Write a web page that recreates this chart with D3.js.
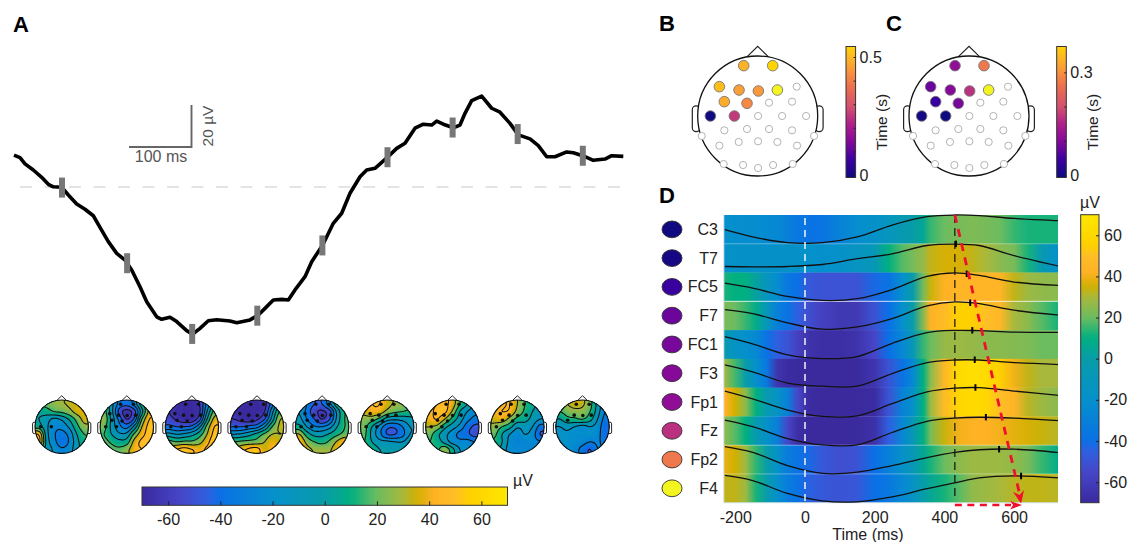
<!DOCTYPE html>
<html><head><meta charset="utf-8">
<script src="https://cdn.jsdelivr.net/npm/d3@7"></script>
<style>
html,body{margin:0;padding:0;background:#fff}
svg{display:block}
text{font-family:"Liberation Sans",Arial,sans-serif;fill:#222}
</style></head><body><svg id="c" width="1127" height="542"></svg>
<script>
// ---------- Panel A: grand average trace
const traceT=[-76.8,-67.2,-59.2,-45.9,-32.5,-21.9,-13.9,-0.5,10.1,23.5,36.8,50.1,60.8,74.1,87.5,100.8,111.5,124.8,135.5,151.5,159.5,172.8,183.5,199.5,209.1,220.8,234.1,247.5,268.8,279.5,300.8,314.1,324.8,338.1,351.5,362.1,372.8,388.8,399.5,417.1,434.1,447.5,460.8,476.8,487.5,500.8,520.5,535.5,548.8,564.8,578.1,591.5,599.5,610.1,626.1,636.8,644.8,655.5,671.5,687.5,700.8,716.8,730.1,748.8,762.1,775.5,788.8,807.5,818.1,834.1,850.1,868.8,879.5,898.1];
const traceV=[15.2,14,11,8.1,4.6,1.3,0.1,-0.1,-3.8,-8.1,-10.6,-13.7,-19.2,-26,-31.6,-34.8,-39.5,-47.5,-54.6,-61.8,-63,-62,-64.1,-68.4,-70.1,-67.3,-63.7,-63.2,-63.8,-64.6,-63.3,-61,-57.8,-53.8,-53.5,-53.8,-49,-42.7,-35.6,-27.6,-17.3,-12.5,-3,4.9,8.1,8.9,14.1,18.4,20.8,28,29.9,29.5,31.4,29.9,28.2,29.5,35.1,41.1,43.3,37.5,35.6,30.3,24.8,22.9,19.7,14.4,14.4,16.7,16.3,14.8,12.7,13.3,14.9,14.6];
const markerT=[0,104.2,208.3,312.5,416.6,520.8,625,729.1,833.3];

// ---------- Topographies (rows front to back, columns left to right, uV)
const topo1=[[15,20,25,28,32,35,35],[5,8,15,18,25,35,38],[0,-8,-18,-12,2,20,35],[8,-12,-25,-25,-12,10,25],[42,-8,-28,-35,-25,0,15],[48,-5,-25,-38,-28,-5,10],[14,-5,-18,-28,-22,-5,5]];
const topo2=[[15,-10,-35,-40,-25,10,30],[20,-10,-50,-65,-50,-5,35],[25,-5,-35,-60,-40,15,45],[20,-5,-25,-35,-10,30,50],[15,0,-12,-10,18,40,50],[20,12,5,8,35,48,48],[25,20,18,25,40,45,45]];
const topo3=[[-55,-65,-70,-70,-60,-25,5],[-60,-68,-70,-70,-62,-15,20],[-55,-62,-68,-68,-50,0,35],[-40,-45,-45,-40,-18,20,45],[-10,-15,-12,-5,8,30,50],[20,15,18,18,25,40,55],[35,45,50,45,40,48,55]];
const topo4=[[-60,-68,-70,-70,-65,-35,0],[-65,-70,-70,-70,-60,-20,15],[-60,-65,-68,-62,-45,-8,28],[-45,-45,-40,-35,-15,15,32],[-15,-12,-5,5,18,30,30],[15,18,20,22,30,38,35],[30,40,48,50,35,42,38]];
const topo5=[[-5,-30,-45,-45,-20,10,20],[-15,-35,-55,-62,-50,-10,15],[-10,-30,-45,-60,-45,-10,15],[5,-15,-28,-30,-20,0,15],[30,8,-5,-5,2,12,20],[45,25,15,10,18,32,45],[45,35,28,28,28,40,45]];
const topo6=[[40,45,45,35,28,25,20],[35,40,38,25,18,15,12],[25,22,10,-8,-12,-10,-5],[20,0,-20,-40,-42,-30,-15],[18,-5,-25,-45,-45,-35,-15],[15,0,-10,-12,-15,-15,-5],[15,10,0,-2,-5,0,-2]];
const topo7=[[42,45,48,38,15,0,-15],[42,48,48,28,0,-15,-25],[40,45,30,10,-8,-25,-35],[30,25,5,-8,-20,-38,-48],[20,5,-10,-22,-35,-42,-50],[15,8,-5,-20,-25,-25,-30],[15,12,25,5,-15,-20,-20]];
const topo8=[[35,42,45,30,15,5,-5],[40,45,42,25,12,0,-8],[35,38,25,10,5,-5,-15],[25,15,5,-12,-8,-15,-35],[18,0,-15,-25,-15,-22,-45],[12,0,-20,-28,-25,-25,-28],[10,-5,-22,-25,-25,-25,-25]];
const topo9=[[25,30,35,32,20,-5,-25],[15,22,25,25,15,-8,-30],[0,10,12,15,5,-15,-35],[-15,-10,-15,-20,-15,-22,-40],[-18,-18,-22,-22,-20,-25,-40],[-15,-20,-22,-25,-30,-28,-35],[-20,-22,-25,-35,-45,-30,-30]];
const topos=[topo1,topo2,topo3,topo4,topo5,topo6,topo7,topo8,topo9];
const allTen=["Fp1","Fp2","F7","F3","Fz","F4","FC5","FC1","T7","C3"];
const topoDots=[["T7","C3"],allTen,allTen,allTen,allTen,allTen,allTen,allTen.slice(0,9),["Fp1","Fp2","F3","Fz","F4","FC5"]];

// ---------- Montage
const chanNames=["Fp1","Fp2","F7","F3","Fz","F4","F8","FC5","FC1","FC2","FC6","T7","C3","Cz","C4","T8","CP5","CP1","CP2","CP6","TP9","P7","P3","Pz","P4","P8","TP10","PO9","O1","Oz","O2","PO10"];
const chanX=[-.233,.25,-.639,-.311,.011,.328,.65,-.556,-.178,.189,.572,-.789,-.389,.006,.406,.806,-.556,-.178,.189,.572,-.933,-.639,-.317,.006,.328,.656,.939,-.567,-.244,.006,.256,.583];
const chanY=[-.839,-.839,-.489,-.433,-.417,-.433,-.489,-.239,-.211,-.222,-.239,0,0,0,0,0,.239,.217,.217,.239,.333,.494,.433,.422,.433,.494,.333,.8,.817,.867,.817,.8];

// ---------- Panels B, C: latency per electrode (s)
const latB={T7:0,C3:.26,FC1:.42,Fz:.45,F3:.46,FC5:.48,Fp1:.49,F7:.51,Fp2:.55,F4:.58};
const latC={C3:0,T7:.008,FC5:.05,F7:.085,FC1:.095,F3:.105,Fp1:.115,Fz:.17,Fp2:.27,F4:.4};
const latStopT=[0,.13,.27,.38,.5,.65,.75,.87,.95,1];
const latStopC=["#0f0a80","#3c00a0","#8a0a9a","#ad1f8a","#d04f70","#ec7050","#f99040","#fdbb20","#ffd500","#f4f520"];

// ---------- Panel D: rows
const rowNames=["C3","T7","FC5","F7","FC1","F3","Fp1","Fz","Fp2","F4"];
const cellT=[-230,-200,-170,-140,-110,-80,-50,-20,10,50,100,150,200,240,280,310,340,360,400,440,480,520,560,600,640,680,730];
const rowC3=[-20,-21,-22,-22,-24,-25,-30,-35,-38,-38,-28,-22,-18,-12,-5,0,5,15,20,22,23,22,20,15,12,12,12];
const rowT7=[-17,-18,-18,-18,-18,-18,-18,-18,-19,-20,-18,-14,-8,10,18,22,27,33,36,36,33,30,25,22,12,-5,-18];
const rowFC5=[12,10,10,2,-12,-22,-35,-40,-48,-50,-50,-50,-42,-38,-20,0,22,34,42,44,44,44,44,33,28,26,25];
const rowF7=[22,20,15,8,-10,-30,-38,-45,-52,-58,-62,-62,-50,-40,-20,0,25,42,48,55,55,50,45,30,25,18,12];
const rowFC1=[-5,-15,-20,-25,-38,-45,-50,-58,-65,-68,-68,-65,-55,-40,-25,-8,15,20,27,28,27,25,25,24,23,20,20];
const rowF3=[28,16,0,-20,-35,-64,-69,-70,-70,-70,-70,-70,-64,-50,-38,-25,10,25,45,62,65,62,55,40,33,30,30];
const rowFp1=[42,35,25,10,-5,-15,-30,-55,-69,-70,-70,-70,-69,-50,-28,-18,10,28,48,58,62,60,50,43,32,28,25];
const rowFz=[25,18,10,-5,-18,-30,-55,-68,-70,-70,-70,-70,-66,-45,-25,-8,10,22,34,40,42,42,40,38,36,34,32];
const rowFp2=[38,35,28,14,0,-18,-32,-38,-42,-48,-52,-50,-40,-30,-18,-8,5,12,20,25,28,28,28,26,22,15,8];
const rowF4=[33,33,28,12,-2,-20,-32,-38,-44,-48,-50,-48,-40,-35,-25,-15,0,5,12,18,26,28,30,32,33,33,32];
const rowCells=[rowC3,rowT7,rowFC5,rowF7,rowFC1,rowF3,rowFp1,rowFz,rowFp2,rowF4];
const waveT=[-230,-150,-50,50,150,250,350,430,500,600,730];
const waveC3=[.49,.24,.04,.04,.24,.65,.94,1,.98,.88,.8];
const waveT7=[.21,.2,.21,.28,.48,.65,.94,.99,.94,.59,.22];
const waveFC5=[.63,.46,.17,.03,.09,.41,.87,.99,.9,.67,.55];
const waveF7=[.71,.57,.25,.03,.11,.4,.84,.98,.92,.69,.52];
const waveFC1=[.77,.52,.14,.01,.08,.54,.91,.99,.98,.93,.92];
const waveF3=[.79,.55,.16,.05,.05,.49,.87,.96,.96,.87,.8];
const waveFp1=[.88,.61,.22,0,.02,.44,.85,.98,1,.88,.73];
const waveFz=[.87,.64,.23,.01,.01,.44,.83,.94,.97,.94,.85];
const waveFp2=[.95,.75,.29,.02,.06,.29,.57,.75,.84,.86,.74];
const waveF4=[.95,.77,.32,.06,.03,.2,.49,.69,.86,.93,.86];
const rowWaves=[waveC3,waveT7,waveFC5,waveF7,waveFC1,waveF3,waveFp1,waveFz,waveFp2,waveF4];
const peakT=[430,433,464,474,480,487,489,519,557,620];
const timeTicks=[-200,0,200,400,600];
const uvTicks=[-60,-40,-20,0,20,40,60];

// ---------- Colour map (uV)
const uvStops=[-70,-55,-45,-40,-20,0,10,20,30,35,42,50,55,70];
const uvColors=["#3a2a9e","#4646c8","#2f5fe0","#0a70e6","#0590cc","#089ca8","#00b080","#6cbc60","#a8b83c","#d0b000","#ffb224","#ffbe28","#ffd000","#ffe600"];
const uvColor=d3.scaleLinear().domain(uvStops).range(uvColors).clamp(true);
const latColor=d3.scaleLinear().domain(latStopT).range(latStopC).clamp(true);

const svg=d3.select("#c"), defs=svg.append("defs");
const chanIdx=n=>chanNames.indexOf(n);
function lerpAt(ts,vs,t){const i=Math.max(1,Math.min(ts.length-1,d3.bisectLeft(ts,t)));const f=(t-ts[i-1])/(ts[i]-ts[i-1]);return vs[i-1]+f*(vs[i]-vs[i-1]);}
function bigLetter(s,x,y){svg.append("text").attr("x",x).attr("y",y).attr("font-size",22).attr("font-weight","bold").style("fill","#000").text(s);}
bigLetter("A",13,32);bigLetter("B",659,31);bigLetter("C",886,31);bigLetter("D",659,203);

// ---------- Panel A
const xA=d3.scaleLinear().domain([0,100]).range([62,124.5]);
const yA=d3.scaleLinear().domain([0,20]).range([187,145]);
const gA=svg.append("g");
gA.append("line").attr("x1",20).attr("x2",623).attr("y1",yA(0)).attr("y2",yA(0)).attr("stroke","#dcdcdc").attr("stroke-width",1.5).attr("stroke-dasharray","12 12.5");
gA.append("path").datum(traceT.map((t,i)=>[t,traceV[i]])).attr("fill","none").attr("stroke","#000").attr("stroke-width",3.6).attr("stroke-linejoin","round")
  .attr("d",d3.line().x(d=>xA(d[0])).y(d=>yA(d[1])));
gA.selectAll("rect.mk").data(markerT).join("rect").attr("class","mk").attr("width",6).attr("height",20)
  .attr("x",d=>xA(d)-3).attr("y",d=>yA(lerpAt(traceT,traceV,d))-10).attr("fill","#777");
gA.append("path").attr("d",`M${xA(107.2)},${yA(19.05)}H${xA(207.2)}V${yA(39.05)}`).attr("fill","none").attr("stroke","#666").attr("stroke-width",1.9);
gA.append("text").attr("x",161).attr("y",162).attr("text-anchor","middle").attr("font-size",16).style("fill","#555").text("100 ms");
gA.append("text").attr("transform","translate(213,126) rotate(-90)").attr("text-anchor","middle").attr("font-size",15.5).style("fill","#555").text("20 µV");

// head outline
function head(g,cx,cy,r,sw){
  const s=d3.scaleLinear().domain([-1,1]).range([-r,r]);
  const gh=g.append("g").attr("transform",`translate(${cx},${cy})`);
  [-1,1].forEach(sd=>{
    gh.append("rect").attr("x",sd<0?s(-1.09):s(.96)).attr("y",s(-.17)).attr("width",s(.13)-s(0)).attr("height",s(.43)-s(0))
      .attr("rx",(s(.065)-s(0))).attr("fill","#fff").attr("stroke","#222").attr("stroke-width",sw);
  });
  gh.append("path").attr("d",d3.line()([[s(-.18),s(-.985)],[s(0),s(-1.16)],[s(.18),s(-.985)]])).attr("fill","none").attr("stroke","#222").attr("stroke-width",sw);
  return {gh,s};
}

// ---------- Topographies
const GRID=[-.85,-.5667,-.2833,0,.2833,.5667,.85], N=70, EXT=1.06;
function cr(p0,p1,p2,p3,t){return .5*(2*p1+(p2-p0)*t+(2*p0-5*p1+4*p2-p3)*t*t+(3*p1-p0-3*p2+p3)*t*t*t);}
function upsample(m){
  const n=m.length,at=(r,c)=>m[Math.max(0,Math.min(n-1,r))][Math.max(0,Math.min(n-1,c))];
  const out=new Float64Array(N*N);
  for(let j=0;j<N;j++)for(let i=0;i<N;i++){
    const dx=-EXT+2*EXT*(i+.5)/N,dy=-EXT+2*EXT*(j+.5)/N;
    const u=(dx-GRID[0])/(GRID[1]-GRID[0]),v=(dy-GRID[0])/(GRID[1]-GRID[0]);
    const iu=Math.floor(u),iv=Math.floor(v),fu=u-iu,fv=v-iv,rows=[];
    for(let k=-1;k<=2;k++)rows.push(cr(at(iv+k,iu-1),at(iv+k,iu),at(iv+k,iu+1),at(iv+k,iu+2),fu));
    out[j*N+i]=cr(rows[0],rows[1],rows[2],rows[3],fv);
  }
  return out;
}
const fillLevels=d3.range(-90,80,2.5), lineLevels=d3.range(-60,70,15);
const geo=d3.geoPath();
const gT=svg.append("g");
const rT=26.7, cyT=426.7;
topos.forEach((m,k)=>{
  const cx=xA(markerT[k])-.3;
  const {gh,s}=head(gT,cx,cyT,rT,1);
  const id="clip"+k;
  defs.append("clipPath").attr("id",id).append("circle").attr("r",rT);
  const vals=upsample(m);
  const scale=2*EXT*rT/N;
  const g=gh.append("g").attr("clip-path",`url(#${id})`).append("g").attr("transform",`translate(${-EXT*rT},${-EXT*rT}) scale(${scale})`);
  d3.contours().size([N,N]).thresholds(fillLevels)(vals).forEach(c=>{
    g.append("path").attr("d",geo(c)).attr("fill",uvColor(c.value+1.25)).attr("stroke",uvColor(c.value+1.25)).attr("stroke-width",.3);
  });
  d3.contours().size([N,N]).thresholds(lineLevels)(vals).forEach(c=>{
    g.append("path").attr("d",geo(c)).attr("fill","none").attr("stroke","#111").attr("stroke-width",1.05/scale);
  });
  gh.append("circle").attr("r",rT).attr("fill","none").attr("stroke","#111").attr("stroke-width",1.2);
  gh.selectAll("circle.dot").data(topoDots[k]).join("circle").attr("class","dot").attr("r",1.8)
    .attr("cx",d=>s(chanX[chanIdx(d)])).attr("cy",d=>s(chanY[chanIdx(d)])).attr("fill","#111");
});

// gradient helper
function gradient(id,horizontal,color,dom){
  const g=defs.append("linearGradient").attr("id",id).attr("x1",0).attr("y1",horizontal?0:1).attr("x2",horizontal?1:0).attr("y2",0);
  d3.range(0,1.0001,.02).forEach(f=>g.append("stop").attr("offset",f).attr("stop-color",color(dom[0]+f*(dom[1]-dom[0]))));
}

// bottom colour bar
gradient("gUvH",true,uvColor,[-70,70]); gradient("gUvV",false,uvColor,[-70,70]);
const xCb=d3.scaleLinear().domain([-70,70]).range([142,507.5]);
svg.append("rect").attr("x",142).attr("y",487).attr("width",365.5).attr("height",18.3).attr("fill","url(#gUvH)").attr("stroke","#333").attr("stroke-width",1);
const axCb=svg.append("g").attr("transform","translate(0,505.3)").call(d3.axisBottom(xCb).tickValues(uvTicks).tickFormat(String).tickSize(-4).tickPadding(8));
axCb.select(".domain").remove(); axCb.selectAll("line").attr("stroke","#222");
axCb.selectAll("text").attr("font-size",16).style("font-family",'"Liberation Sans"');
svg.append("text").attr("x",513).attr("y",486).attr("font-size",16).text("µV");

// ---------- Panels B, C
function latencyPanel(cx,lat,barX,dom,barMax,ticks,labels,labX){
  const r=60,{gh,s}=head(svg,cx,116,r,1.2);
  gh.append("circle").attr("r",r).attr("fill","#fff").attr("stroke","#111").attr("stroke-width",1.3);
  const col=v=>latColor(v/dom);
  gh.selectAll("circle.e").data(chanNames).join("circle").attr("class","e")
    .attr("cx",(d,i)=>s(chanX[i])).attr("cy",(d,i)=>s(chanY[i]))
    .attr("r",d=>lat[d]===undefined?3.6:5.3)
    .attr("fill",d=>lat[d]===undefined?"#fff":col(lat[d]))
    .attr("stroke",d=>lat[d]===undefined?"#aaa":"#777").attr("stroke-width",.9);
  const id="gl"+barX;
  gradient(id,false,col,[0,barMax]);
  const y=d3.scaleLinear().domain([0,barMax]).range([175,46.5]);
  svg.append("rect").attr("x",barX).attr("y",46.5).attr("width",9.6).attr("height",131).attr("fill",`url(#${id})`).attr("stroke","#333").attr("stroke-width",1);
  const ax=svg.append("g").attr("transform",`translate(${barX+9.6},0)`)
    .call(d3.axisRight(y).tickValues(ticks).tickFormat(d=>labels.includes(d)?String(d):"").tickSize(-2).tickPadding(4));
  ax.select(".domain").remove(); ax.selectAll("line").attr("stroke","#222");
  ax.selectAll("text").attr("font-size",16).style("font-family",'"Liberation Sans"');
  svg.append("text").attr("transform",`translate(${labX},122) rotate(-90)`).attr("text-anchor","middle").attr("font-size",15.5).text("Time (s)");
}
latencyPanel(757.7,latB,846,.58,.5445,[0,.1,.2,.3,.4,.5],[0,.5],887);
latencyPanel(969,latC,1056.7,.40,.3755,[0,.1,.2,.3],[0,.3],1098);

// ---------- Panel D
const xD=d3.scaleLinear().domain([0,200]).range([805,874.7]);
const rowH=28.77, topD=215;
const rowBand=d3.scaleBand().domain(rowNames).range([topD,topD+10*rowH]);
const x0=xD(-232), x1=xD(726);
const gD=svg.append("g");
rowNames.forEach((n,i)=>{
  const id="row"+i, gr=defs.append("linearGradient").attr("id",id).attr("gradientUnits","userSpaceOnUse").attr("x1",x0).attr("x2",x1).attr("y1",0).attr("y2",0);
  cellT.forEach((t,j)=>gr.append("stop").attr("offset",Math.min(1,(xD(t)-x0)/(x1-x0))).attr("stop-color",uvColor(rowCells[i][j])));
  gD.append("rect").attr("x",x0).attr("y",rowBand(n)).attr("width",x1-x0).attr("height",rowH+.3).attr("fill",`url(#${id})`);
});
[1,3,8,9].forEach(i=>gD.append("line").attr("x1",x0).attr("x2",x1).attr("y1",topD+i*rowH).attr("y2",topD+i*rowH).attr("stroke","#fff").attr("stroke-opacity",i==3?.75:.35));
gD.append("line").attr("x1",x0).attr("x2",x1).attr("y1",topD+10*rowH).attr("y2",topD+10*rowH).attr("stroke","#cfe0e0");
gD.append("line").attr("x1",x0-.5).attr("x2",x0-.5).attr("y1",topD).attr("y2",topD+10*rowH).attr("stroke","#dde");
const clipRows=defs.append("clipPath").attr("id","rowsClip").append("rect").attr("x",x0).attr("y",topD-1).attr("width",x1-x0).attr("height",10*rowH+2);
rowNames.forEach((n,i)=>{
  const yR=d3.scaleLinear().domain([0,1]).range([rowBand(n)+rowH,rowBand(n)]);
  gD.append("path").datum(waveT.map((t,j)=>[t,rowWaves[i][j]])).attr("fill","none").attr("stroke","#111").attr("stroke-width",1.3).attr("clip-path","url(#rowsClip)")
    .attr("d",d3.line().x(d=>xD(d[0])).y(d=>yR(d[1])).curve(d3.curveCatmullRom));
  if(i>0){const py=yR(lerpAt(waveT,rowWaves[i],peakT[i]));
    gD.append("line").attr("x1",xD(peakT[i])).attr("x2",xD(peakT[i])).attr("y1",py-3.5).attr("y2",py+3).attr("stroke","#000").attr("stroke-width",2);}
  svg.append("ellipse").attr("cx",672).attr("cy",rowBand(n)+rowH/2).attr("rx",10).attr("ry",8.4).attr("fill",latColor(latC[n]/.40)).attr("stroke","#333").attr("stroke-width",.9);
  svg.append("text").attr("x",718).attr("y",rowBand(n)+rowH/2+5.5).attr("text-anchor","end").attr("font-size",16).text(n);
});
gD.append("line").attr("x1",xD(0)).attr("x2",xD(0)).attr("y1",topD+3).attr("y2",topD+10*rowH).attr("stroke","#fff").attr("stroke-width",1.4).attr("stroke-dasharray","7 5");
gD.append("line").attr("x1",xD(430)).attr("x2",xD(430)).attr("y1",topD).attr("y2",497).attr("stroke","#111").attr("stroke-width",1.2).attr("stroke-dasharray","8 5");
// travelling peak arrows
const red="#f0102e", xS=xD(430), xE=xD(620);
gD.append("line").attr("x1",xS).attr("y1",topD).attr("x2",xE-1.5).attr("y2",494).attr("stroke",red).attr("stroke-width",2.8).attr("stroke-dasharray","8 6.5");
gD.append("path").attr("d",`M${xE},503.5L${xE-8},492L${xE-1.5},495L${xE+3},490Z`).attr("fill",red);
gD.append("line").attr("x1",xS).attr("y1",505).attr("x2",xE-10).attr("y2",505).attr("stroke",red).attr("stroke-width",2.6).attr("stroke-dasharray","7 5.5");
gD.append("path").attr("d",`M${xE+1},505L${xE-11},501L${xE-8},505L${xE-11},509.5Z`).attr("fill",red);

const axD=svg.append("g").attr("transform",`translate(0,${topD+10*rowH})`).call(d3.axisBottom(xD).tickValues(timeTicks).tickFormat(String).tickSize(0).tickPadding(9));
axD.select(".domain").remove();
axD.selectAll("text").attr("font-size",16).style("font-family",'"Liberation Sans"');
svg.append("text").attr("x",868).attr("y",540).attr("text-anchor","middle").attr("font-size",16).text("Time (ms)");

// D colour bar
const yCb=d3.scaleLinear().domain([-70,70]).range([502.7,214.7]);
svg.append("rect").attr("x",1080.7).attr("y",214.7).attr("width",18.3).attr("height",288).attr("fill","url(#gUvV)").attr("stroke","#333").attr("stroke-width",1);
const axV=svg.append("g").attr("transform","translate(1099,0)").call(d3.axisRight(yCb).tickValues(uvTicks).tickFormat(String).tickSize(-3).tickPadding(5));
axV.select(".domain").remove(); axV.selectAll("line").attr("stroke","#222");
axV.selectAll("text").attr("font-size",16).style("font-family",'"Liberation Sans"');
svg.append("text").attr("x",1080).attr("y",208).attr("font-size",16).text("µV");
</script></body></html>
